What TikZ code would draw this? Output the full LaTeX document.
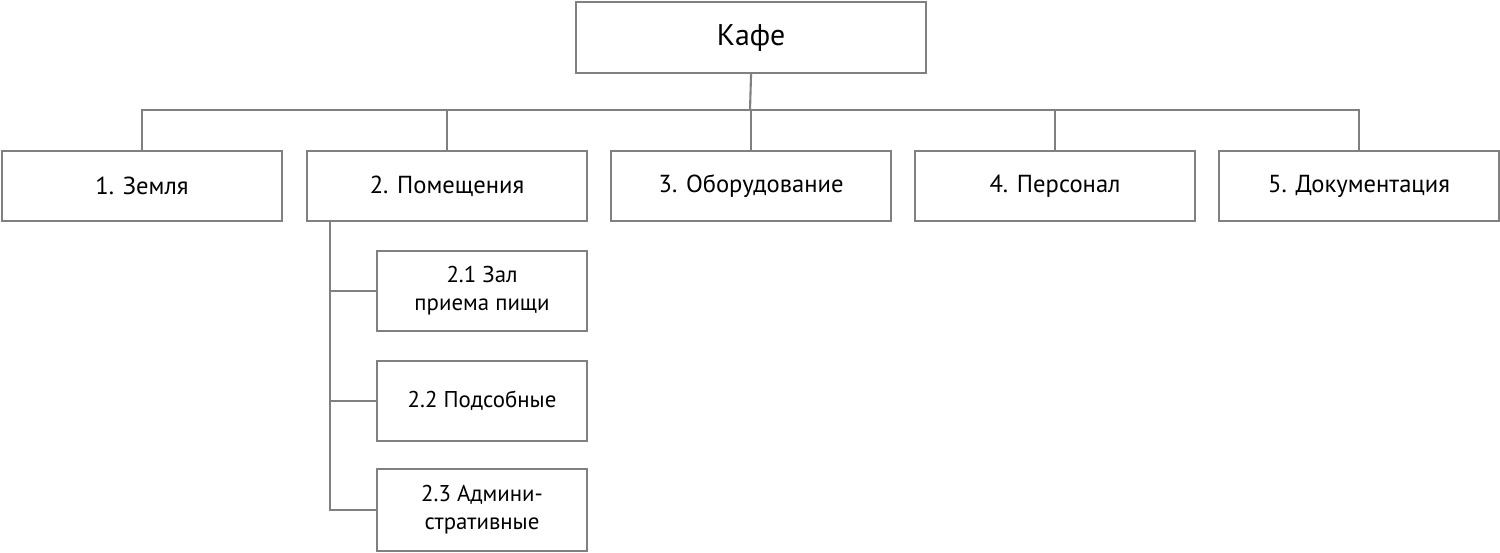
\documentclass[tikz,border=0pt]{standalone}
\usepackage{fontspec}
\setmainfont{PT Sans}
\begin{document}
\begin{tikzpicture}[x=0.02cm,y=-0.02cm,
 bx/.style={draw=black!50,line width=1.2pt,fill=white,inner sep=0pt,anchor=north west},
 ln/.style={draw=black!50,line width=1.2pt},
 tl/.style={font=\fontsize{14}{17}\selectfont},
 ts/.style={font=\fontsize{13}{16}\selectfont,align=center}]
\useasboundingbox (0,0) rectangle (1500,553);
\node[bx,minimum width=350*0.02cm,minimum height=71*0.02cm,font=\fontsize{17}{20}\selectfont] (root) at (575,1) {Кафе};
\foreach \n/\x/\t in {a/1/1. Земля,b/306/2. Помещения,c/610/3. Оборудование,d/914/4. Персонал,e/1218/5. Документация}
 \node[bx,tl,minimum width=280*0.02cm,minimum height=70*0.02cm] (\n) at (\x,150) {\t};
\node[bx,ts,minimum width=210*0.02cm,minimum height=80*0.02cm] (s1) at (376,250) {2.1 Зал\\приема пищи};
\node[bx,ts,minimum width=210*0.02cm,minimum height=80*0.02cm] (s2) at (376,360) {2.2 Подсобные};
\node[bx,ts,minimum width=210*0.02cm,minimum height=82*0.02cm] (s3) at (376,468) {2.3 Админи-\\стративные};
\coordinate (h) at (750,110);
\draw[ln] (root.south) -- (h);
\draw[ln] (a.north) |- (h) -| (e.north);
\foreach \n in {b,c,d} \draw[ln] (\n.north) -- (\n.north |- h);
\coordinate (v) at (330,220);
\draw[ln] (v) |- (s3.west);
\draw[ln] (s1.west) -- (s1.west -| v);
\draw[ln] (s2.west) -- (s2.west -| v);
\end{tikzpicture}
\end{document}
